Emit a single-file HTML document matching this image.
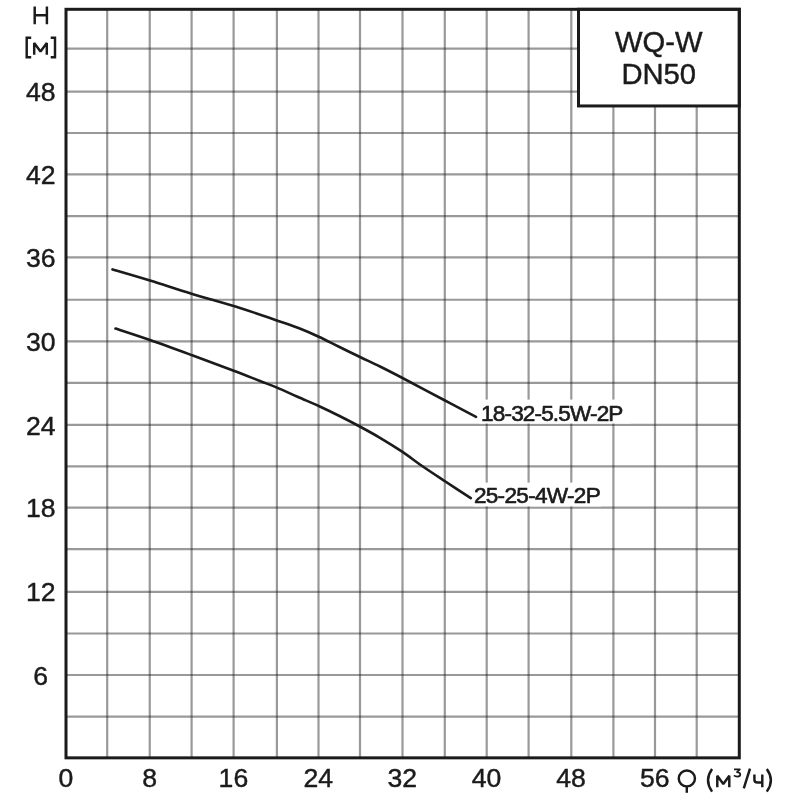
<!DOCTYPE html>
<html><head><meta charset="utf-8"><title>WQ-W DN50</title>
<style>html,body{margin:0;padding:0;background:#fff;}body{width:800px;height:800px;overflow:hidden;}svg{display:block;}text{font-family:"Liberation Sans",sans-serif;fill:#1b1b1b;stroke:#1b1b1b;stroke-width:0.45px;stroke-linejoin:round;}</style></head><body>
<svg style="will-change:transform" width="800" height="800" viewBox="0 0 800 800">
<rect x="0" y="0" width="800" height="800" fill="#ffffff"/>
<g stroke="#1c1c1c" stroke-opacity="0.45" stroke-width="2.2" fill="none">
<line x1="107.2" y1="9.3" x2="107.2" y2="757.85"/>
<line x1="149.75" y1="9.3" x2="149.75" y2="757.85"/>
<line x1="191.6" y1="9.3" x2="191.6" y2="757.85"/>
<line x1="233.6" y1="9.3" x2="233.6" y2="757.85"/>
<line x1="276.9" y1="9.3" x2="276.9" y2="757.85"/>
<line x1="318.5" y1="9.3" x2="318.5" y2="757.85"/>
<line x1="360.0" y1="9.3" x2="360.0" y2="757.85"/>
<line x1="402.5" y1="9.3" x2="402.5" y2="757.85"/>
<line x1="444.8" y1="9.3" x2="444.8" y2="757.85"/>
<line x1="486.7" y1="9.3" x2="486.7" y2="757.85"/>
<line x1="528.6" y1="9.3" x2="528.6" y2="757.85"/>
<line x1="571.3" y1="9.3" x2="571.3" y2="757.85"/>
<line x1="613.4" y1="9.3" x2="613.4" y2="757.85"/>
<line x1="655" y1="9.3" x2="655" y2="757.85"/>
<line x1="696.7" y1="9.3" x2="696.7" y2="757.85"/>
<line x1="66.0" y1="48.7" x2="739.3" y2="48.7"/>
<line x1="66.0" y1="91.6" x2="739.3" y2="91.6"/>
<line x1="66.0" y1="133.0" x2="739.3" y2="133.0"/>
<line x1="66.0" y1="174.3" x2="739.3" y2="174.3"/>
<line x1="66.0" y1="216.1" x2="739.3" y2="216.1"/>
<line x1="66.0" y1="257.3" x2="739.3" y2="257.3"/>
<line x1="66.0" y1="299.75" x2="739.3" y2="299.75"/>
<line x1="66.0" y1="341.3" x2="739.3" y2="341.3"/>
<line x1="66.0" y1="382.95" x2="739.3" y2="382.95"/>
<line x1="66.0" y1="424.9" x2="739.3" y2="424.9"/>
<line x1="66.0" y1="466.3" x2="739.3" y2="466.3"/>
<line x1="66.0" y1="507.7" x2="739.3" y2="507.7"/>
<line x1="66.0" y1="549.1" x2="739.3" y2="549.1"/>
<line x1="66.0" y1="591.8" x2="739.3" y2="591.8"/>
<line x1="66.0" y1="633.5" x2="739.3" y2="633.5"/>
<line x1="66.0" y1="675.0" x2="739.3" y2="675.0"/>
<line x1="66.0" y1="716.7" x2="739.3" y2="716.7"/>
</g>
<rect x="479" y="399.6" width="152" height="23.9" fill="#fff"/>
<rect x="473" y="482.6" width="128" height="23.8" fill="#fff"/>
<rect x="578.5" y="9.3" width="160.79999999999995" height="96.65" fill="#fff" stroke="#1b1b1b" stroke-width="3"/>
<rect x="66.0" y="9.3" width="673.3" height="748.5500000000001" fill="none" stroke="#1b1b1b" stroke-width="3"/>
<g fill="none" stroke="#1b1b1b" stroke-width="2.6" stroke-linecap="round" stroke-linejoin="round">
<path d="M112.50 269.40 C118.75 271.25 136.83 276.45 150.00 280.50 C163.17 284.55 176.50 289.12 191.50 293.70 C206.50 298.28 225.79 303.55 240.00 308.00 C254.21 312.45 267.00 317.07 276.75 320.40 C286.50 323.73 291.50 325.28 298.50 328.00 C305.50 330.72 312.00 333.57 318.75 336.70 C325.50 339.82 332.12 343.37 339.00 346.75 C345.88 350.13 353.17 353.71 360.00 357.00 C366.83 360.29 372.92 363.00 380.00 366.50 C387.08 370.00 391.67 372.33 402.50 378.00 C413.33 383.67 432.75 394.03 445.00 400.50 C457.25 406.97 470.83 414.08 476.00 416.80"/>
<path d="M115.50 328.50 C121.25 330.42 137.33 335.58 150.00 340.00 C162.67 344.42 177.54 349.88 191.50 355.00 C205.46 360.12 222.33 366.42 233.75 370.75 C245.17 375.08 252.79 378.19 260.00 381.00 C267.21 383.81 270.75 384.97 277.00 387.60 C283.25 390.23 290.46 393.69 297.50 396.80 C304.54 399.91 312.25 403.05 319.25 406.25 C326.25 409.45 332.75 412.62 339.50 416.00 C346.25 419.38 353.00 422.87 359.75 426.50 C366.50 430.13 372.88 433.57 380.00 437.80 C387.12 442.03 395.42 447.16 402.50 451.90 C409.58 456.64 415.42 461.36 422.50 466.25 C429.58 471.14 436.95 475.94 445.00 481.25 C453.05 486.56 466.50 495.29 470.80 498.10"/>
</g>
<text x="481.1" y="421.1" font-size="22.6" style="stroke-width:0.65px" textLength="142.3" lengthAdjust="spacing">18-32-5.5W-2P</text>
<text x="473.9" y="502.9" font-size="22.6" style="stroke-width:0.65px" textLength="126.9" lengthAdjust="spacing">25-25-4W-2P</text>
<text x="658.7" y="52" font-size="29.2" text-anchor="middle">WQ-W</text>
<text x="658.7" y="83.8" font-size="29.2" text-anchor="middle">DN50</text>
<text x="40.7" y="101.2" font-size="26.6" text-anchor="middle">48</text>
<text x="40.7" y="183.9" font-size="26.6" text-anchor="middle">42</text>
<text x="40.7" y="266.9" font-size="26.6" text-anchor="middle">36</text>
<text x="40.7" y="350.9" font-size="26.6" text-anchor="middle">30</text>
<text x="40.7" y="434.5" font-size="26.6" text-anchor="middle">24</text>
<text x="40.7" y="517.3" font-size="26.6" text-anchor="middle">18</text>
<text x="40.7" y="601.4" font-size="26.6" text-anchor="middle">12</text>
<text x="40.7" y="684.6" font-size="26.6" text-anchor="middle">6</text>
<text x="65.8" y="787" font-size="26.6" text-anchor="middle">0</text>
<text x="149.6" y="787" font-size="26.6" text-anchor="middle">8</text>
<text x="233.4" y="787" font-size="26.6" text-anchor="middle">16</text>
<text x="318.3" y="787" font-size="26.6" text-anchor="middle">24</text>
<text x="402.3" y="787" font-size="26.6" text-anchor="middle">32</text>
<text x="486.5" y="787" font-size="26.6" text-anchor="middle">40</text>
<text x="571.1" y="787" font-size="26.6" text-anchor="middle">48</text>
<text x="654.8" y="787" font-size="26.6" text-anchor="middle">56</text>
<g fill="none" stroke="#1b1b1b" stroke-width="2.45" stroke-linecap="butt" stroke-linejoin="miter">
<path d="M34.7 6.6V24.3M46.9 6.6V24.3M34.7 15.3H46.9"/>
<path d="M31.2 37.7H26.7V57.3H31.2"/>
<path d="M50.7 37.7H55V57.3H50.7"/>
<path d="M34.2 54.7V43.1L40.5 51.6L46.8 43.1V54.7" stroke-linejoin="bevel"/>
<ellipse cx="686.85" cy="778.45" rx="8.1" ry="7.9"/>
<path d="M686.8 786.3V792.8"/>
<path d="M712.1 769Q703.9 780.3 712.1 791.6"/>
<path d="M717.3 787.2V775.7L723.3 784L729.3 775.7V787.2" stroke-linejoin="bevel"/>
<path d="M743.8 788.4L750 768.6"/>
<path d="M754.4 774.6V779.4Q754.4 782.5 757.6 782.5H762.3M762.3 774.6V787.2"/>
<path d="M766.8 769Q775 780.3 766.8 791.6"/>
<path d="M734 769.3H739.9L737 772.2Q740.3 772.3 740.3 774.6Q740.3 776.6 737.3 776.6Q735.2 776.6 733.9 775.4" stroke-width="1.7" stroke-linejoin="round"/>
</g>
</svg></body></html>
